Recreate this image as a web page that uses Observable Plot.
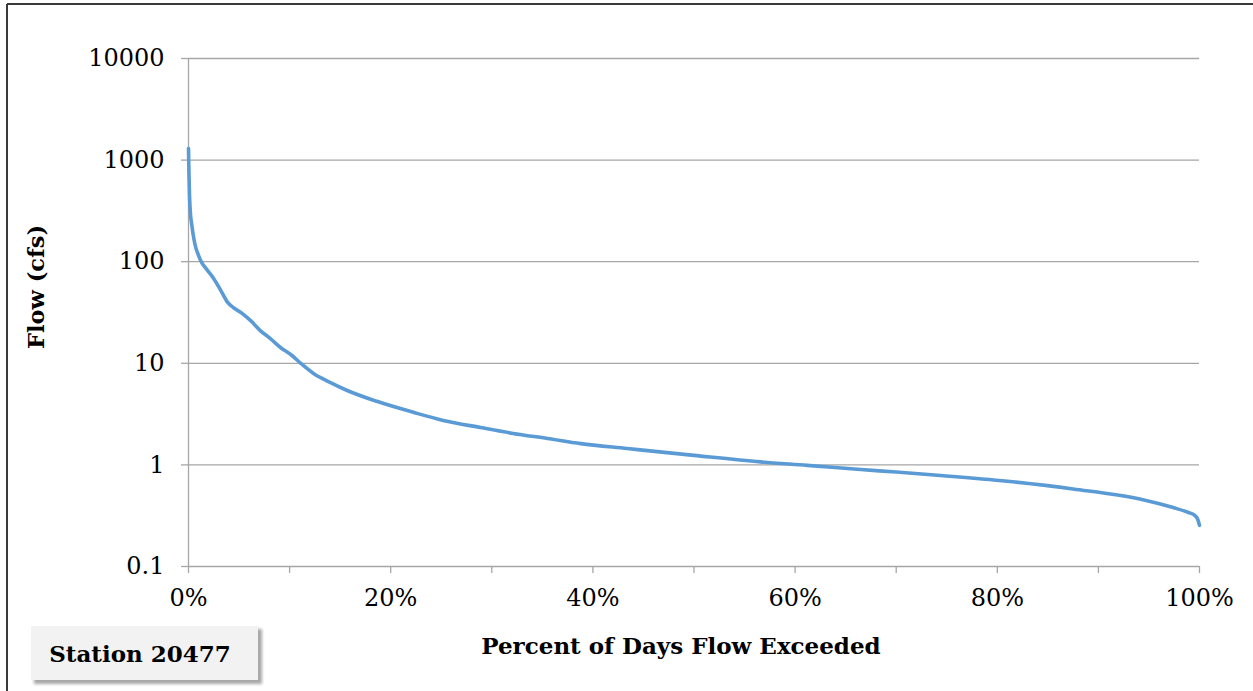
<!DOCTYPE html>
<html>
<head>
<meta charset="utf-8">
<script src="https://cdn.jsdelivr.net/npm/d3@7"></script>
<script src="https://cdn.jsdelivr.net/npm/@observablehq/plot@0.6"></script>
<style>
  html, body { margin: 0; padding: 0; background: #fff; }
  #chart { width: 1253px; height: 691px; overflow: hidden; }
</style>
</head>
<body>
<div id="chart"></div>
<script>
// Percent of days flow exceeded (%) and flow (cfs)
const percent = [0, 0.05, 0.1, 0.2, 0.3, 0.5, 0.7, 1.0, 1.2, 1.8, 2.5, 3.2, 3.85, 4.5, 5.3, 6.2, 7.1, 8.1, 9.1, 10.2, 11.1, 12.4, 14, 15.7, 18.7, 22.3, 25.2, 28.9, 32.1, 35.5, 38.8, 43.4, 50, 56.6, 61.2, 66.5, 70, 74.4, 81, 87.5, 94.2, 97.4, 98.9, 99.5, 99.8, 100];
const flow    = [1300, 700, 450, 290, 240, 175, 140, 115, 103, 84, 68, 52, 40, 35, 31, 26, 21, 17.5, 14.3, 12, 10, 7.9, 6.5, 5.4, 4.2, 3.28, 2.74, 2.33, 2.04, 1.82, 1.62, 1.45, 1.24, 1.07, 0.99, 0.9, 0.85, 0.787, 0.69, 0.58, 0.46, 0.38, 0.34, 0.32, 0.295, 0.254];
const yTicks = [0.1, 1, 10, 100, 1000, 10000];
const xTicks = [0, 20, 40, 60, 80, 100];
const xMinorTicks = [0, 10, 20, 30, 40, 50, 60, 70, 80, 90, 100];
const xTitle = "Percent of Days Flow Exceeded";
const yTitle = "Flow (cfs)";
const stationLabel = "Station 20477";

const data = percent.map((p, i) => ({p, q: flow[i]}));
const FONT = "DejaVu Serif";
const GRID = "#a6a6a6";

const chart = Plot.plot({
  width: 1253,
  height: 691,
  marginLeft: 188,
  marginRight: 54,
  marginTop: 58,
  marginBottom: 125,
  x: {domain: [0, 100]},
  y: {type: "log", domain: [0.1, 10000]},
  style: {fontFamily: FONT, fontSize: "24px", color: "#000", background: "#fff", overflow: "visible"},
  marks: [
    Plot.ruleY(yTicks, {stroke: GRID, strokeWidth: 1.3}),
    Plot.ruleX([0], {stroke: GRID, strokeWidth: 1.3}),
    Plot.axisY({ticks: yTicks, tickSize: 7, tickFormat: () => "", color: GRID, label: null, strokeWidth: 1.3}),
    Plot.axisY({ticks: yTicks, tickSize: 0, tickPadding: 24, tickFormat: d => String(d), color: "#000", label: null, fontSize: 24}),
    Plot.axisX({ticks: xMinorTicks, tickSize: 7, tickFormat: () => "", color: GRID, label: null, strokeWidth: 1.3}),
    Plot.axisX({ticks: xTicks, tickSize: 0, tickPadding: 22, tickFormat: d => d + "%", color: "#000", label: null, fontSize: 24}),
    Plot.line(data, {x: "p", y: "q", stroke: "#5b9bd5", strokeWidth: 3.6, curve: "monotone-x"})
  ]
});

document.getElementById("chart").appendChild(chart);

const svg = d3.select(chart);

// Outer frame (left and top edges visible)
svg.append("line").attr("x1", 7).attr("x2", 7).attr("y1", 4).attr("y2", 691)
  .attr("stroke", "#3a3a3a").attr("stroke-width", 2);
svg.append("line").attr("x1", 7).attr("x2", 1253).attr("y1", 4).attr("y2", 4)
  .attr("stroke", "#3a3a3a").attr("stroke-width", 2);

// Axis titles
svg.append("text")
  .attr("x", 681).attr("y", 645)
  .attr("text-anchor", "middle").attr("dominant-baseline", "central")
  .attr("font-family", FONT).attr("font-weight", "bold").attr("font-size", 23)
  .attr("fill", "#000")
  .text(xTitle);

svg.append("text")
  .attr("transform", "translate(36,287) rotate(-90)")
  .attr("text-anchor", "middle").attr("dominant-baseline", "central")
  .attr("font-family", FONT).attr("font-weight", "bold").attr("font-size", 22.5)
  .attr("fill", "#000")
  .text(yTitle);

// Station label box with shadow
const defs = svg.append("defs");
defs.append("filter").attr("id", "shadowBlur").attr("x", "-10%").attr("y", "-10%").attr("width", "130%").attr("height", "130%")
  .append("feGaussianBlur").attr("stdDeviation", 1.6);
svg.append("rect").attr("x", 34).attr("y", 629).attr("width", 228).attr("height", 55)
  .attr("fill", "#a8a8a8").attr("filter", "url(#shadowBlur)");
svg.append("rect").attr("x", 31).attr("y", 626).attr("width", 227).attr("height", 54)
  .attr("fill", "#f2f2f2");
svg.append("text")
  .attr("x", 140).attr("y", 653)
  .attr("text-anchor", "middle").attr("dominant-baseline", "central")
  .attr("font-family", FONT).attr("font-weight", "bold").attr("font-size", 23)
  .attr("fill", "#000")
  .text(stationLabel);
</script>
</body>
</html>
